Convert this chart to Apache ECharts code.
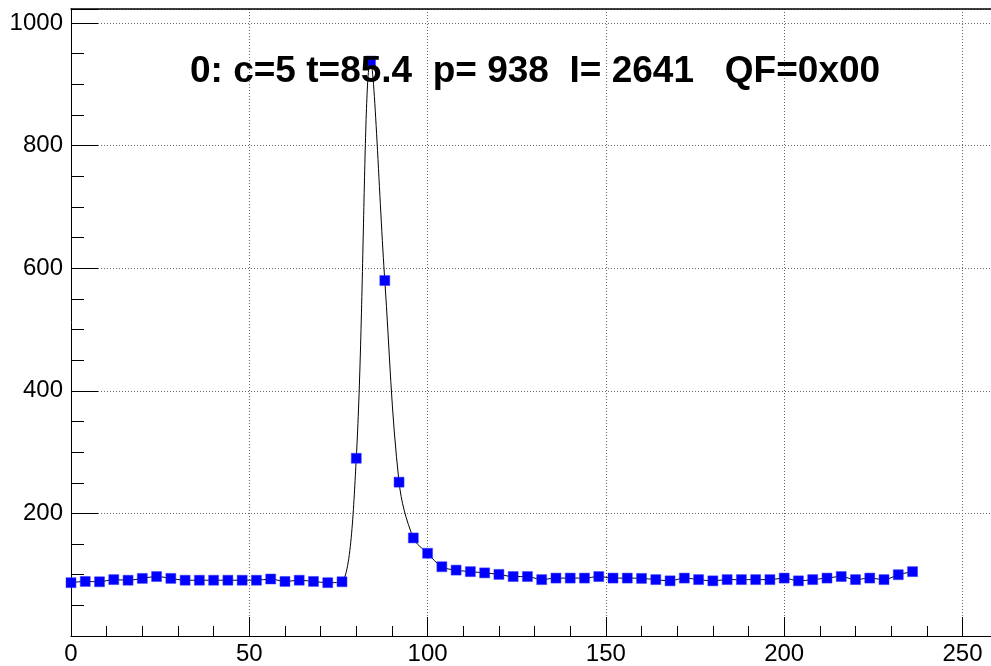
<!DOCTYPE html>
<html>
<head>
<meta charset="utf-8">
<style>
  html, body { margin: 0; padding: 0; background: #fff; }
  #chart { width: 991px; height: 666px; }
</style>
<script src="https://cdn.jsdelivr.net/npm/echarts@6/dist/echarts.min.js"></script>
</head>
<body>
<div id="chart"></div>
<script>
// sample times (one point every 4 ticks)
const sampleX = [
  0, 4, 8, 12, 16, 20, 24, 28, 32, 36, 40, 44, 48, 52, 56, 60, 64, 68, 72, 76,
  80, 84, 88, 92, 96, 100, 104, 108, 112, 116, 120, 124, 128, 132, 136, 140, 144, 148, 152, 156,
  160, 164, 168, 172, 176, 180, 184, 188, 192, 196, 200, 204, 208, 212, 216, 220, 224, 228, 232, 236
];
// amplitudes
const sampleY = [
  87, 89, 88.5, 92, 91, 94, 97, 94, 91, 91, 91, 91, 91, 91, 93, 89, 91, 89, 87, 88.5,
  290, 938, 580, 251, 160, 135, 113, 107.5, 105, 103, 100.5, 97, 97, 92, 94.5, 94.5, 94.5, 97, 94.5, 94.5,
  94, 92, 90, 94.5, 92, 90, 92, 92, 92, 92, 94.5, 90, 92, 94.5, 97, 92, 94.5, 92, 100, 105
];
const titleText = "0: c=5 t=85.4  p= 938  I= 2641   QF=0x00";

const FONT = "Liberation Sans, Arial, Helvetica, sans-serif";
const X_MAX = 258;
const Y_MAX = 1023;

const chart = echarts.init(document.getElementById("chart"), null, { renderer: "canvas" });

const options = {
  animation: false,
  backgroundColor: "#fff",
  title: {
    text: titleText,
    left: 185,
    top: 48,
    textStyle: {
      fontFamily: FONT,
      fontSize: 37,
      fontWeight: "bold",
      color: "#000",
    },
  },
  grid: {
    left: 71,
    top: 9,
    right: 0,
    bottom: 29,
  },
  xAxis: [
    {
      type: "value",
      min: 0,
      max: X_MAX,
      interval: 50,
      axisLine: { show: true, onZero: false, lineStyle: { color: "#000", width: 1 } },
      axisTick: { show: true, inside: true, length: 19, lineStyle: { color: "#000" } },
      minorTick: { show: true, splitNumber: 5, length: 10, lineStyle: { color: "#000" } },
      splitLine: { show: true, lineStyle: { color: "#666", type: [1, 2], width: 1 } },
      axisLabel: {
        color: "#000",
        fontFamily: FONT,
        fontSize: 24,
        margin: 6,
        showMaxLabel: false,
        formatter: (v) => String(v),
      },
    },
    {
      // top frame line only
      type: "value",
      position: "top",
      min: 0,
      max: X_MAX,
      axisLine: { show: true, onZero: false, lineStyle: { color: "#000", width: 1.5 } },
      axisTick: { show: false },
      axisLabel: { show: false },
      splitLine: { show: false },
    },
  ],
  yAxis: {
    type: "value",
    min: 0,
    max: Y_MAX,
    interval: 200,
    axisLine: { show: true, onZero: false, lineStyle: { color: "#000", width: 1 } },
    axisTick: { show: true, inside: true, length: 27, lineStyle: { color: "#000" } },
    minorTick: { show: true, splitNumber: 4, length: 13, lineStyle: { color: "#000" } },
    splitLine: { show: true, lineStyle: { color: "#666", type: [1, 2], width: 1 } },
    axisLabel: {
      color: "#000",
      fontFamily: FONT,
      fontSize: 24,
      margin: 8,
      showMinLabel: false,
      showMaxLabel: false,
      formatter: (v) => String(v),
    },
  },
  series: [
    {
      type: "line",
      data: sampleX.map((x, i) => [x, sampleY[i]]),
      smooth: 0.35,
      symbol: "rect",
      symbolSize: 10,
      showAllSymbol: true,
      lineStyle: { color: "#000", width: 1 },
      itemStyle: { color: "#0000ff", borderColor: "#3a3aff", borderWidth: 0.5 },
      z: 3,
    },
  ],
};

chart.setOption(options);

window.addEventListener("resize", () => {
  chart.resize();
});
</script>
</body>
</html>
